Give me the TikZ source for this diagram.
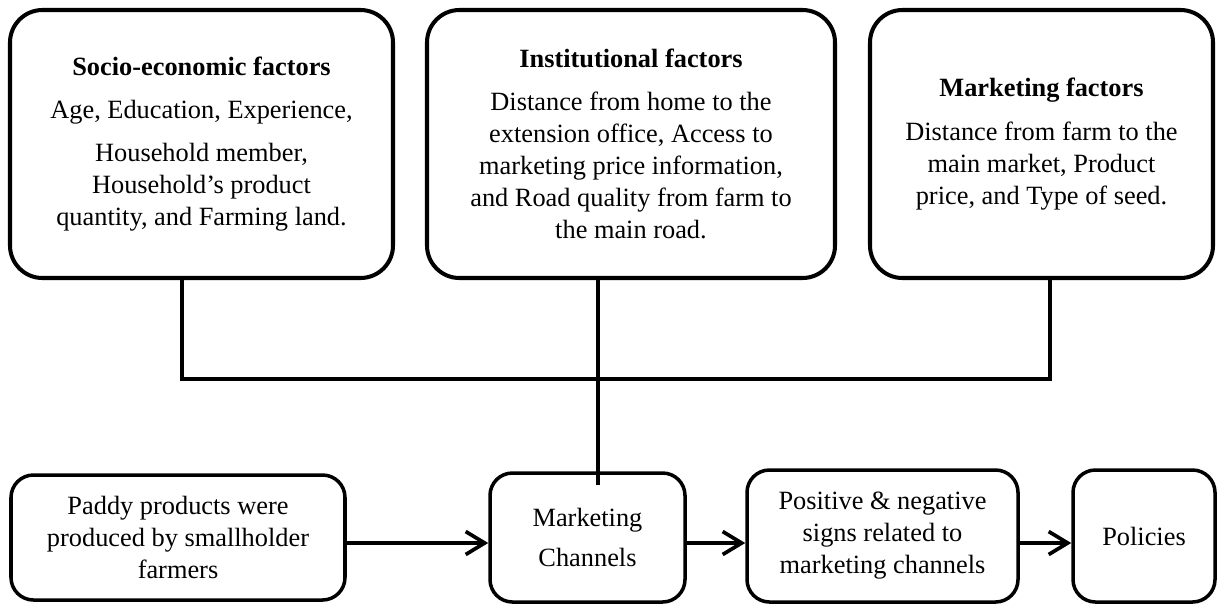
\documentclass[tikz,border=0pt]{standalone}
\usepackage{fontspec}
\setmainfont{Liberation Serif}
\usetikzlibrary{arrows.meta}
\begin{document}
\begin{tikzpicture}[line join=round,line cap=round,font=\fontsize{15}{18.2}\selectfont,
	>={Straight Barb[length=3.8mm,width=4.6mm]},
	factor/.style={draw,line width=2.3pt,rounded corners=0.65cm,align=center,minimum height=5.36cm,inner sep=0pt},
	stage/.style={draw,line width=2pt,rounded corners=0.45cm,align=center,inner sep=0pt},
	link/.style={line width=2.3pt,line join=miter,line cap=butt},
	flow/.style={->,line width=2.1pt}]
	\useasboundingbox (0,0) rectangle (24.34,-12.08);
	\node[factor,minimum width=7.66cm] (socio) at (4.03,-2.88) {\textbf{Socio-economic factors}\\[6.5pt] Age, Education, Experience,\\[6pt] Household member,\\ Household's product\\ quantity, and Farming land.};
	\node[factor,minimum width=8.16cm] (inst) at (12.62,-2.88) {\textbf{Institutional factors}\\[6.5pt] Distance from home to the\\ extension office, Access to\\ marketing price information,\\ and Road quality from farm to\\ the main road.};
	\node[factor,minimum width=6.86cm] (mkt) at (20.83,-2.88) {\textbf{Marketing factors}\\[7pt] Distance from farm to the\\ main market, Product\\ price, and Type of seed.};
	\node[stage,minimum width=6.68cm,minimum height=2.5cm] (paddy) at (3.56,-10.75) {Paddy products were\\ produced by smallholder\\ farmers};
	\node[stage,minimum width=3.9cm,minimum height=2.58cm] (chan) at (11.75,-10.75) {Marketing\\[4.5pt] Channels};
	\node[stage,minimum width=5.42cm,minimum height=2.64cm] (sign) at (17.65,-10.72) {Positive \& negative\\ signs related to\\ marketing channels};
	\node[stage,minimum width=2.84cm,minimum height=2.64cm] (policy) at (22.88,-10.72) {Policies};
	\coordinate (j1) at (3.64,-7.58);
	\coordinate (j2) at (11.96,-7.58);
	\coordinate (j3) at (21,-7.58);
	\coordinate (row) at (0,-10.86);
	\draw[link] (socio.south -| j1)--(j1)--(j3)--(mkt.south -| j3);
	\draw[link] (inst.south -| j2)--(j2)--([yshift=-0.28cm]chan.north -| j2);
	\draw[flow] (paddy.east |- row)--(chan.west |- row);
	\draw[flow] (chan.east |- row)--(sign.west |- row);
	\draw[flow] (sign.east |- row)--(policy.west |- row);
\end{tikzpicture}
\end{document}
